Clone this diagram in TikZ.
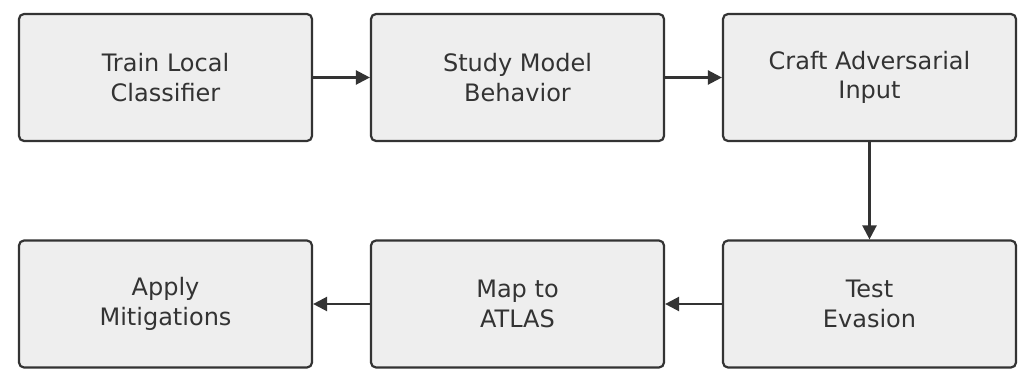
\documentclass[tikz,border=0pt]{standalone}
\usepackage{fontspec}
\setmainfont{DejaVu Sans}
\usetikzlibrary{arrows.meta}
\definecolor{boxfill}{HTML}{EEEEEE}
\definecolor{boxline}{HTML}{333333}
\begin{document}
\begin{tikzpicture}[x=1pt,y=-1pt,
  stepbox/.style={draw=boxline,fill=boxfill,line width=2.2pt,rounded corners=5pt,
    minimum width=293pt,minimum height=127pt,align=center,text=boxline,
    font=\fontsize{24}{29.5}\selectfont,inner sep=0pt},
  conn/.style={draw=boxline,line width=2.4pt,-{Triangle[length=14pt,width=14pt]}}]
\useasboundingbox (0,0) rectangle (1022,377);
\node[stepbox] (a) at (165.5,77.5) {Train Local\\Classifier};
\node[stepbox] (b) at (517.5,77.5) {Study Model\\Behavior};
\node[stepbox] (c) at (869.5,77.5) {Craft Adversarial\\Input};
\node[stepbox] (d) at (869.5,304) {Test\\Evasion};
\node[stepbox] (e) at (517.5,304) {Map to\\ATLAS};
\node[stepbox] (f) at (165.5,304) {Apply\\Mitigations};
\draw[conn] (a) -- (b);
\draw[conn] (b) -- (c);
\draw[conn] (c) -- (d);
\draw[conn] (d) -- (e);
\draw[conn] (e) -- (f);
\end{tikzpicture}
\end{document}
